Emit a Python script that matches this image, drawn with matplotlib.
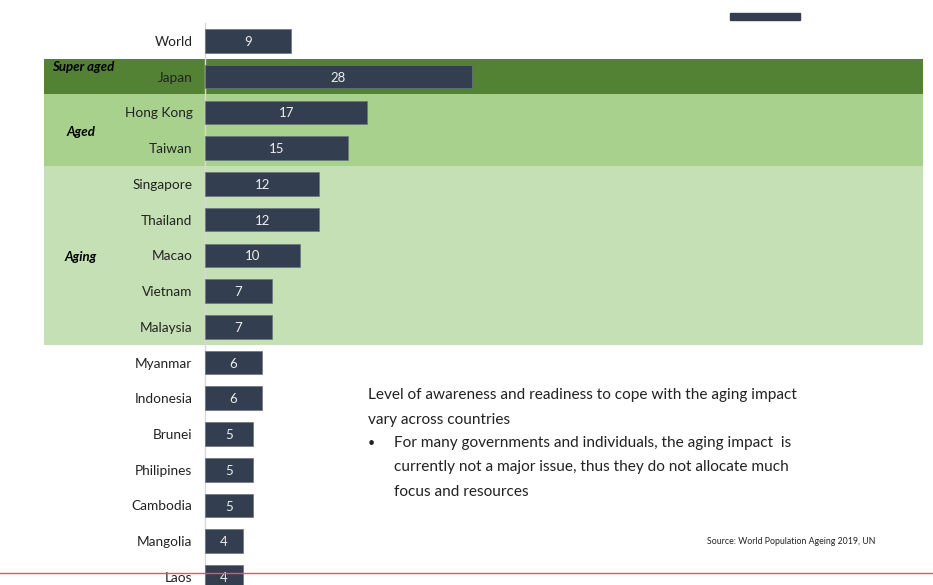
import matplotlib.pyplot as plt
from matplotlib.lines import Line2D
from matplotlib.patches import Rectangle

plt.rcParams['font.family'] = ['Lato', 'DejaVu Sans']

# Data
countries = ['World', 'Japan', 'Hong Kong', 'Taiwan', 'Singapore', 'Thailand',
             'Macao', 'Vietnam', 'Malaysia', 'Myanmar', 'Indonesia', 'Brunei',
             'Philipines', 'Cambodia', 'Mangolia', 'Laos']
values = [9, 28, 17, 15, 12, 12, 10, 7, 7, 6, 6, 5, 5, 5, 4, 4]

# groups: (label, first row, last row, colour)
groups = [
    ('Super aged', 1, 1, '#548235'),
    ('Aged', 2, 3, '#a9d18e'),
    ('Aging', 4, 8, '#c5e0b4'),
]

W, H = 933, 585
fig = plt.figure(figsize=(W / 100, H / 100), dpi=100)

# axes: x=0 at pixel 205, ~9.54 px per unit, rows every ~35.7 px
left_px, right_px = 205, 923
top_px = 23
ax = fig.add_axes([left_px / W, 0, (right_px - left_px) / W, (H - top_px) / H])
ax.set_xlim(0, (right_px - left_px) / 9.54)
ax.set_ylim(15.225, -0.5)

rows = list(range(len(countries)))
ax.barh(rows, values, height=0.66, color='#333f50', edgecolor='#6b7380',
        linewidth=0.5, zorder=3)

for r, v in zip(rows, values):
    ax.text(v / 2, r + 0.03, str(v), ha='center', va='center', color='#eeeeee',
            fontsize=9.5, zorder=4)

# group bands stretching left of the axis
band_x0 = (44 - left_px) / (right_px - left_px)
for label, r0, r1, col in groups:
    ax.axhspan(r0 - 0.5, r1 + 0.5, xmin=band_x0, xmax=1, color=col,
               clip_on=False, zorder=0, linewidth=0)

lab_x = ((81 - left_px) / 9.54)
ax.text((83 - left_px) / 9.54, 0.73, 'Super aged', ha='center', va='center',
        fontsize=9.5, fontweight='bold', style='italic', clip_on=False)
ax.text(lab_x, 2.55, 'Aged', ha='center', va='center', fontsize=9.5,
        fontweight='bold', style='italic', clip_on=False)
ax.text(lab_x, 6.05, 'Aging', ha='center', va='center', fontsize=9.5,
        fontweight='bold', style='italic', clip_on=False)

ax.set_yticks(rows)
ax.set_yticklabels(countries, fontsize=9.8, color='#222222')
ax.tick_params(axis='y', length=0, pad=9)
ax.set_xticks([])
ax.patch.set_alpha(0)
for s in ['top', 'right', 'bottom']:
    ax.spines[s].set_visible(False)
ax.spines['left'].set_color('#d9d9d9')
ax.spines['left'].set_linewidth(1)

# annotation text
fig.text(368 / W, 1 - 395 / H, 'Level of awareness and readiness to cope with the aging impact',
         fontsize=11.1, va='center', color='#222222')
fig.text(368 / W, 1 - 420 / H, 'vary across countries', fontsize=11.1, va='center', color='#222222')
fig.text(368 / W, 1 - 443 / H, '•', fontsize=9, va='center', color='#222222')
bullet = ['For many governments and individuals, the aging impact  is',
          'currently not a major issue, thus they do not allocate much',
          'focus and resources']
for i, line in enumerate(bullet):
    fig.text(394 / W, 1 - (443 + 24.5 * i) / H, line, fontsize=11.1, va='center', color='#222222')

fig.text(707 / W, 1 - 542 / H, 'Source: World Population Ageing 2019, UN',
         fontsize=6.3, va='center', color='#222222')

# red divider line and cut-off element at the top
fig.add_artist(Line2D([0, 1], [1 - 573 / H, 1 - 573 / H], color='#e05a5a', lw=1))
fig.add_artist(Rectangle((730 / W, 1 - 20 / H), 70 / W, 7 / H, color='#333f50',
                         transform=fig.transFigure))

fig.savefig('out.png', dpi=100)
